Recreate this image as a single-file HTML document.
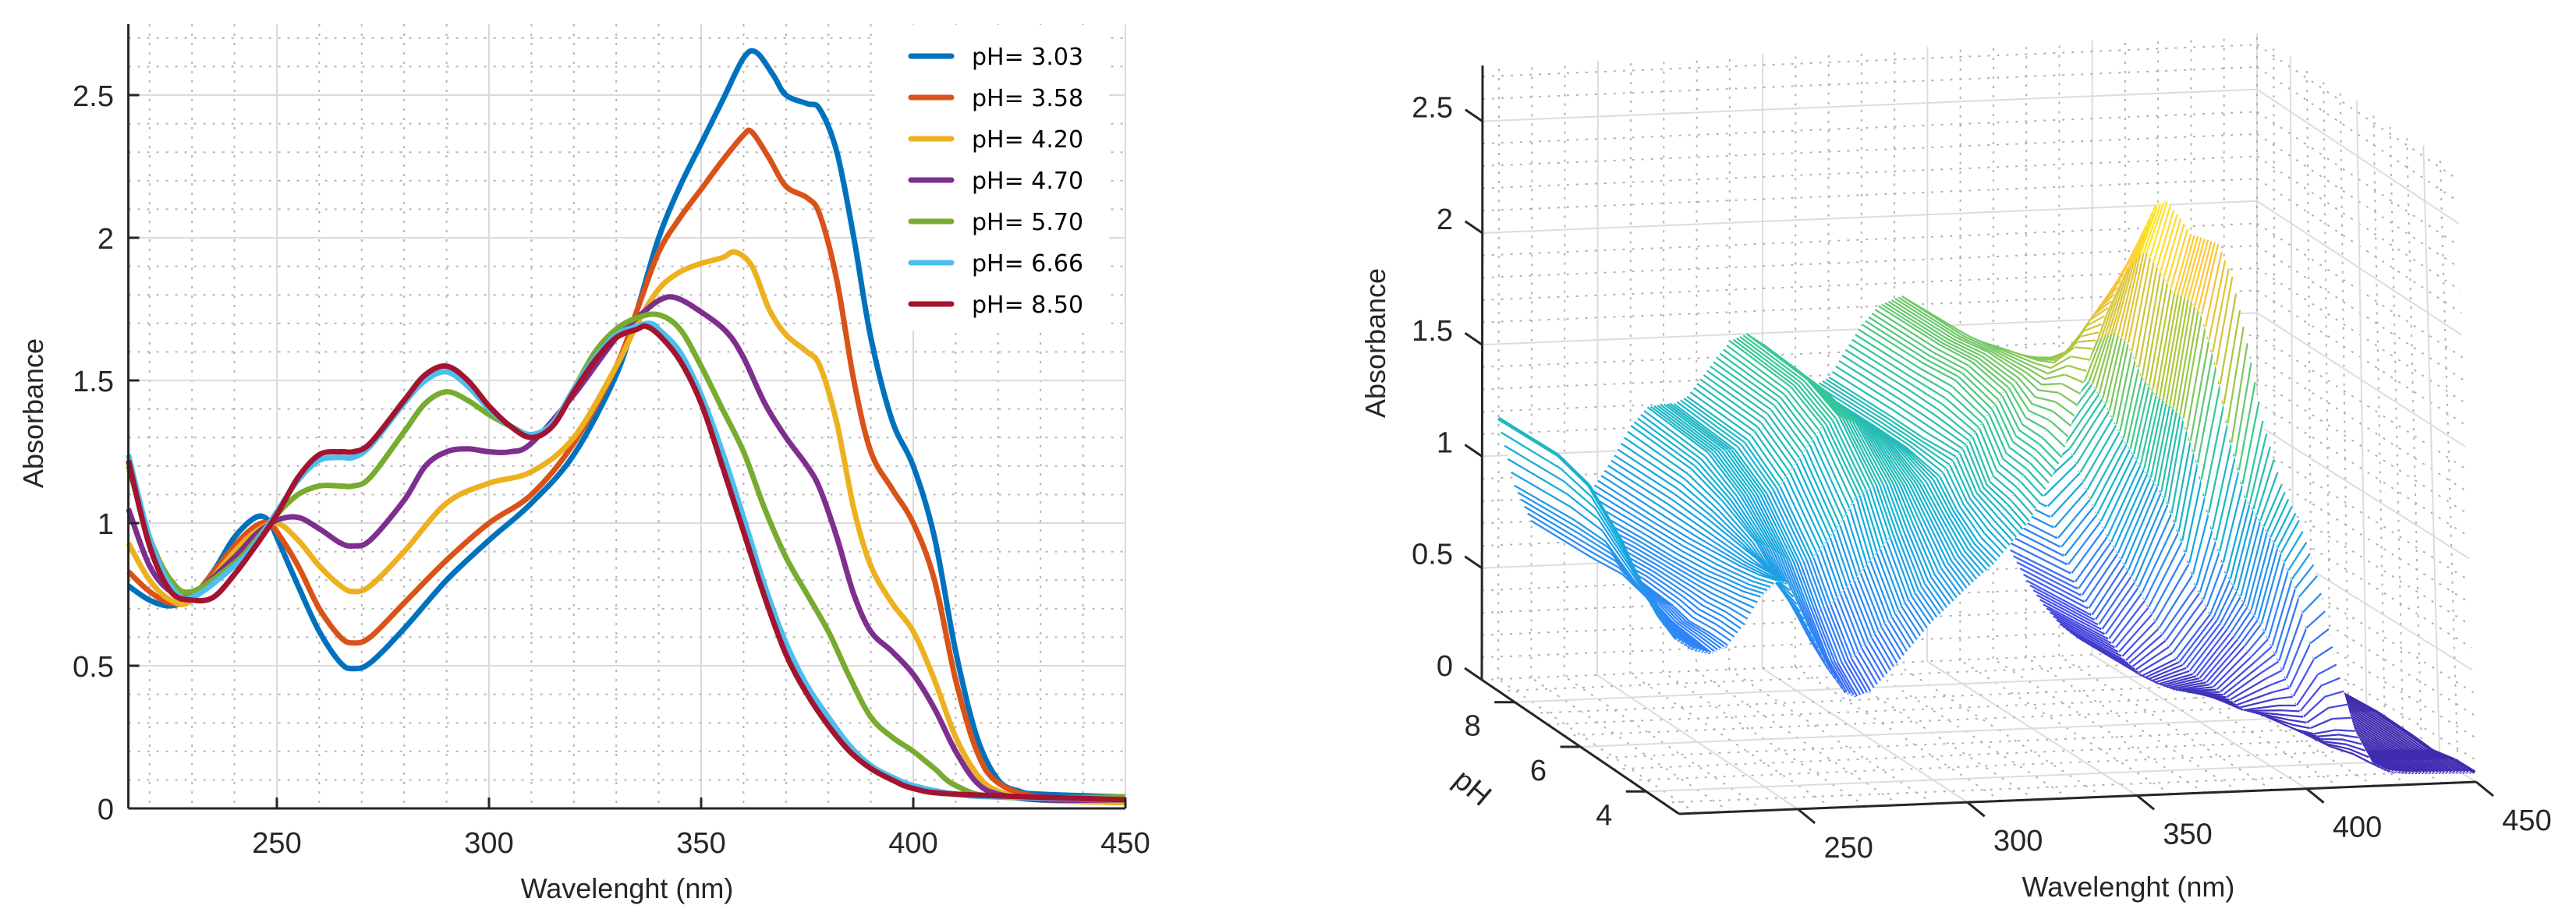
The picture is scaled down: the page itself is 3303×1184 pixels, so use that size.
<!DOCTYPE html>
<html><head><meta charset="utf-8">
<style>
html,body{margin:0;padding:0;background:#fff;}
svg{display:block;}
text{font-family:"Liberation Sans",sans-serif;fill:#262626;}
</style></head>
<body>
<svg id="fig" width="3303" height="1184" viewBox="0 0 3303 1184" xmlns="http://www.w3.org/2000/svg">
  <g id="left">
    <g id="lgrid"></g>
    <g id="llines"></g>
    <g id="laxes"></g>
    <g id="legend"></g>
    <text x="804" y="1152" font-size="36" text-anchor="middle">Wavelenght (nm)</text>
    <text x="0" y="0" font-size="36" text-anchor="middle" transform="translate(55,530) rotate(-90)">Absorbance</text>
  </g>
  <g id="right">
    <g id="rgrid"></g>
    <g id="rsurf"></g>
    <g id="raxes"></g>
    <text x="2729" y="1150" font-size="36" text-anchor="middle">Wavelenght (nm)</text>
    <text x="0" y="0" font-size="36" text-anchor="middle" transform="translate(1776,440) rotate(-90)">Absorbance</text>
    <text x="0" y="0" font-size="38" text-anchor="middle" transform="translate(1880,1020) rotate(40)">pH</text>
  </g>
</svg>
<script>
// ---- data ----
const phLabels = ["pH= 3.03","pH= 3.58","pH= 4.20","pH= 4.70","pH= 5.70","pH= 6.66","pH= 8.50"];
const phValues = [3.03,3.58,4.20,4.70,5.70,6.66,8.50];
const seriesColors = ["#0072BD","#D95319","#EDB120","#7E2F8E","#77AC30","#4DBEEE","#A2142F"];
const wl303=[215,220,225,230,235,240,245,248,250,255,260,265,268,272,280,290,300,310,320,330,335,340,345,350,355,360,363,367,370,375,378,382,386,390,395,400,405,410,415,420,425,430,450];
const ab303=[0.78,0.73,0.71,0.74,0.83,0.95,1.02,1.01,0.95,0.78,0.62,0.51,0.49,0.51,0.63,0.80,0.94,1.07,1.24,1.52,1.75,2.0,2.18,2.33,2.48,2.63,2.65,2.57,2.50,2.47,2.45,2.30,2.00,1.65,1.36,1.20,0.95,0.55,0.25,0.10,0.06,0.05,0.04];
const wl358=[215,220,225,230,240,245,248,250,255,260,265,268,272,280,290,300,310,320,330,335,340,345,350,355,360,362,366,370,375,378,382,386,390,395,400,405,410,415,420,430,450];
const ab358=[0.83,0.76,0.72,0.74,0.92,0.99,1.0,0.97,0.85,0.70,0.60,0.58,0.60,0.72,0.87,1.0,1.10,1.28,1.55,1.75,1.95,2.07,2.17,2.27,2.36,2.37,2.28,2.18,2.14,2.08,1.85,1.50,1.25,1.12,1.0,0.80,0.45,0.20,0.09,0.04,0.04];
const wl420=[215,220,225,230,240,245,250,255,260,265,268,272,280,290,300,310,320,330,335,340,345,350,355,358,362,366,370,375,378,382,386,390,395,400,405,410,415,420,430,450];
const ab420=[0.93,0.80,0.73,0.73,0.90,0.97,1.0,0.94,0.85,0.78,0.76,0.78,0.90,1.07,1.14,1.18,1.30,1.55,1.70,1.82,1.88,1.91,1.93,1.95,1.90,1.75,1.66,1.60,1.55,1.35,1.05,0.85,0.72,0.62,0.45,0.25,0.12,0.06,0.03,0.02];
const wl470=[215,220,225,230,240,245,250,255,260,265,268,272,280,285,290,295,300,305,310,320,330,335,340,344,350,356,360,365,370,375,378,382,386,390,395,400,405,410,415,420,430,450];
const ab470=[1.05,0.85,0.76,0.75,0.88,0.96,1.01,1.02,0.98,0.93,0.92,0.94,1.08,1.20,1.25,1.26,1.25,1.25,1.28,1.45,1.65,1.72,1.78,1.79,1.74,1.67,1.58,1.42,1.30,1.20,1.12,0.95,0.75,0.62,0.55,0.47,0.35,0.20,0.09,0.05,0.03,0.03];
const wl570=[215,220,225,230,240,245,250,255,260,265,268,272,280,285,290,295,300,305,310,315,320,325,330,335,340,345,350,355,360,365,370,375,380,385,390,395,400,405,410,420,450];
const ab570=[1.20,0.95,0.80,0.76,0.86,0.94,1.03,1.10,1.13,1.13,1.13,1.16,1.32,1.42,1.46,1.43,1.38,1.34,1.31,1.35,1.47,1.60,1.68,1.72,1.73,1.68,1.55,1.40,1.25,1.05,0.88,0.75,0.62,0.46,0.32,0.25,0.20,0.14,0.08,0.04,0.04];
const wl666=[215,220,225,230,240,245,250,255,260,265,268,272,280,285,290,295,300,305,310,315,320,325,330,335,338,340,345,350,355,360,365,370,375,380,385,390,395,400,410,420,450];
const ab666=[1.24,0.95,0.78,0.74,0.85,0.93,1.04,1.15,1.22,1.23,1.23,1.27,1.42,1.50,1.53,1.48,1.40,1.34,1.31,1.35,1.47,1.58,1.66,1.69,1.70,1.68,1.60,1.45,1.25,1.02,0.78,0.58,0.43,0.32,0.22,0.15,0.11,0.08,0.05,0.04,0.03];
const wl850=[215,220,225,230,235,240,245,250,255,260,265,268,272,280,285,290,295,300,305,310,315,320,325,330,335,337,340,345,350,355,360,365,370,375,380,385,390,395,400,410,450];
const ab850=[1.22,0.92,0.76,0.73,0.74,0.82,0.92,1.03,1.16,1.24,1.25,1.25,1.28,1.43,1.52,1.55,1.50,1.41,1.34,1.30,1.34,1.46,1.57,1.65,1.68,1.69,1.66,1.57,1.42,1.20,0.97,0.74,0.54,0.40,0.29,0.20,0.14,0.10,0.07,0.05,0.03];
const xTicks=[250,300,350,400,450];
const yTicks=[0,0.5,1,1.5,2,2.5];
const yTickLabels=["0","0.5","1","1.5","2","2.5"];
const zTicks=[0,0.5,1,1.5,2,2.5];
const pHTicks=[4,6,8];

const seriesWl=[wl303,wl358,wl420,wl470,wl570,wl666,wl850];
const seriesAb=[ab303,ab358,ab420,ab470,ab570,ab666,ab850];

const NS="http://www.w3.org/2000/svg";
function mk(tag,parent,attrs){const e=document.createElementNS(NS,tag);for(const k in attrs)e.setAttribute(k,attrs[k]);parent.appendChild(e);return e;}

// ---- left chart ----
const X0=164.6,PXNM=5.44,Y0=1037,PXA=366,TOPY=31,RIGHTX=1443;
const xs=w=>X0+(w-215)*PXNM;
const ys=a=>Y0-a*PXA;
const lgrid=document.getElementById('lgrid');
for(let w=220;w<=450;w+=10){
  const major=w%50===0;
  const l=mk('line',lgrid,{x1:xs(w),x2:xs(w),y1:TOPY,y2:Y0,stroke:major?'#dadada':'#b4b4b4','stroke-width':2,'stroke-dasharray':major?'none':'3 9'});
  
  
}
for(let k=1;k<=27;k++){
  const a=k/10;const major=k%5===0;
  const l=mk('line',lgrid,{x1:X0,x2:RIGHTX,y1:ys(a),y2:ys(a),stroke:major?'#dadada':'#b4b4b4','stroke-width':2,'stroke-dasharray':major?'none':'3 9'});
  
  
}
function catmull(pts){
  let d='M'+pts[0][0].toFixed(1)+','+pts[0][1].toFixed(1);
  for(let i=0;i<pts.length-1;i++){
    const p0=pts[Math.max(0,i-1)],p1=pts[i],p2=pts[i+1],p3=pts[Math.min(pts.length-1,i+2)];
    const c1=[p1[0]+(p2[0]-p0[0])/6,p1[1]+(p2[1]-p0[1])/6];
    const c2=[p2[0]-(p3[0]-p1[0])/6,p2[1]-(p3[1]-p1[1])/6];
    d+='C'+c1[0].toFixed(1)+','+c1[1].toFixed(1)+' '+c2[0].toFixed(1)+','+c2[1].toFixed(1)+' '+p2[0].toFixed(1)+','+p2[1].toFixed(1);
  }
  return d;
}
const llines=document.getElementById('llines');
for(let s=0;s<seriesWl.length;s++){
  const pts=seriesWl[s].map((w,i)=>[xs(w),ys(seriesAb[s][i])]);
  const p=mk('path',llines,{d:catmull(pts),fill:'none',stroke:seriesColors[s],'stroke-width':7,'stroke-linejoin':'round'});
  
  
}
const laxes=document.getElementById('laxes');
let ax=mk('line',laxes,{x1:X0,x2:X0,y1:TOPY,y2:Y0,stroke:'#262626','stroke-width':3});


ax=mk('line',laxes,{x1:X0,x2:RIGHTX,y1:Y0,y2:Y0,stroke:'#262626','stroke-width':3});


xTicks.forEach(w=>{
  const t=mk('line',laxes,{x1:xs(w),x2:xs(w),y1:Y0,y2:Y0-14,stroke:'#262626','stroke-width':3});
  
  
  const tx=mk('text',laxes,{x:xs(w),y:1094,'font-size':38,'text-anchor':'middle'});
  tx.textContent=String(w);
  
  
});
yTicks.forEach((a,i)=>{
  const t=mk('line',laxes,{x1:X0,x2:X0+14,y1:ys(a),y2:ys(a),stroke:'#262626','stroke-width':3});
  
  
  const tx=mk('text',laxes,{x:146,y:ys(a)+14,'font-size':38,'text-anchor':'end'});
  tx.textContent=yTickLabels[i];
  
  
});
const legend=document.getElementById('legend');
const lbg=mk('rect',legend,{x:1122,y:32,width:300,height:392,fill:'#fff'});


phLabels.forEach((lab,i)=>{
  const y=72+i*53;
  const g=mk('g',legend,{});
  
  
  mk('line',g,{x1:1168,x2:1220,y1:y,y2:y,stroke:seriesColors[i],'stroke-width':7,'stroke-linecap':'round'});
  const t=mk('text',g,{x:1246,y:y+11,'font-size':30,style:'font-family:"DejaVu Sans",sans-serif;fill:#000'});
  t.textContent=lab;
});

// ---- right chart (3D) ----
const C={b000:[2153,1044],b100:[3175,1003],b010:[1900,872],b110:[2894,831],b001:[2145,256],b101:[3150,215],b011:[1901,84],b111:[2894,43]};
function P(u,v,h){
  const L=(a,b,t)=>[a[0]+(b[0]-a[0])*t,a[1]+(b[1]-a[1])*t];
  const f0=L(L(C.b000,C.b100,u),L(C.b010,C.b110,u),v);
  const f1=L(L(C.b001,C.b101,u),L(C.b011,C.b111,u),v);
  return L(f0,f1,h);
}
const U=w=>(w-215)/235, V=ph=>(ph-3)/6, H=z=>z/2.75;
const rgrid=document.getElementById('rgrid');
function gl(p,q,major,name){
  const l=mk('line',rgrid,{x1:p[0].toFixed(1),y1:p[1].toFixed(1),x2:q[0].toFixed(1),y2:q[1].toFixed(1),stroke:major?'#dcdcdc':'#b0b0b0','stroke-width':2,'stroke-dasharray':major?'none':'3 9'});
  
  
}
for(let w=220;w<=450;w+=10){const m=w%50===0;gl(P(U(w),1,0),P(U(w),1,1),m,'back-wall-gridline');gl(P(U(w),0,0),P(U(w),1,0),m,'floor-gridline');}
for(let k=1;k<=27;k++){const m=k%5===0;gl(P(0,1,H(k/10)),P(1,1,H(k/10)),m,'back-wall-gridline');gl(P(1,1,H(k/10)),P(1,0,H(k/10)),m,'side-wall-gridline');}
for(let ph=3.5;ph<=9;ph+=0.5){const m=ph%2===0;gl(P(1,V(ph),0),P(1,V(ph),1),m,'side-wall-gridline');gl(P(0,V(ph),0),P(1,V(ph),0),m,'floor-gridline');}

// parula colormap
const parula=[[0.2422,0.1504,0.6603],[0.2810,0.3228,0.9579],[0.1786,0.5289,0.9682],[0.0689,0.6948,0.8394],[0.2161,0.7843,0.5923],[0.6720,0.7793,0.2227],[0.9970,0.7659,0.2199],[0.9769,0.9839,0.0805]];
function cmap(t){
  t=Math.max(0,Math.min(1,t))*(parula.length-1);const i=Math.min(parula.length-2,Math.floor(t)),f=t-i;
  const c=parula[i].map((a,k)=>Math.round(255*(a+(parula[i+1][k]-a)*f)));
  return 'rgb('+c.join(',')+')';
}
function interp(wlArr,abArr,w){
  if(w<=wlArr[0])return abArr[0];
  for(let i=1;i<wlArr.length;i++){if(w<=wlArr[i]){const t=(w-wlArr[i-1])/(wlArr[i]-wlArr[i-1]);return abArr[i-1]+(abArr[i]-abArr[i-1])*t;}}
  return abArr[abArr.length-1];
}
const zmax=Math.max(...seriesAb.map(a=>Math.max(...a)));
const grid=[];const wls=[];
for(let w=215;w<=450;w+=1)wls.push(w);
for(let r=0;r<phValues.length;r++)grid.push(wls.map(w=>interp(seriesWl[r],seriesAb[r],w)));
const quads=[];
for(let r=0;r<phValues.length-1;r++){
  for(let c=0;c<wls.length-1;c++){
    const u0=U(wls[c]),u1=U(wls[c+1]),v0=V(phValues[r]),v1=V(phValues[r+1]);
    const depth=P((u0+u1)/2,(v0+v1)/2,0)[1];
    quads.push({r,c,u0,u1,v0,v1,depth});
  }
}
quads.sort((a,b)=>a.depth-b.depth);
const rsurf=document.getElementById('rsurf');
quads.forEach(q=>{
  const z00=grid[q.r][q.c],z10=grid[q.r][q.c+1],z01=grid[q.r+1][q.c],z11=grid[q.r+1][q.c+1];
  const p1=P(q.u0,q.v0,H(z00)),p2=P(q.u1,q.v0,H(z10)),p3=P(q.u1,q.v1,H(z11)),p4=P(q.u0,q.v1,H(z01));
  const poly=mk('polygon',rsurf,{points:[p1,p2,p3,p4].map(p=>p[0].toFixed(1)+','+p[1].toFixed(1)).join(' '),fill:'#fff',stroke:'none'});
  
  
  const ln=mk('line',rsurf,{x1:p1[0].toFixed(1),y1:p1[1].toFixed(1),x2:p4[0].toFixed(1),y2:p4[1].toFixed(1),stroke:cmap((z00+z01)/2/zmax),'stroke-width':4.5});
  
  
  if(q.c===wls.length-2){
    const ln2=mk('line',rsurf,{x1:p2[0].toFixed(1),y1:p2[1].toFixed(1),x2:p3[0].toFixed(1),y2:p3[1].toFixed(1),stroke:cmap((z10+z11)/2/zmax),'stroke-width':4.5});
    
    
  }
});
// 3D axes
const raxes=document.getElementById('raxes');
function al(p,q,name){
  const l=mk('line',raxes,{x1:p[0].toFixed(1),y1:p[1].toFixed(1),x2:q[0].toFixed(1),y2:q[1].toFixed(1),stroke:'#262626','stroke-width':3});
  
  
}
al(P(0,1,0),P(0,1,1),'z-axis-line');
al(P(0,1,0),P(0,0,0),'ph-axis-line');
al(P(0,0,0),P(1,0,0),'wavelength-axis-line');
zTicks.forEach((z,i)=>{
  const p=P(0,1,H(z));al([p[0]-22,p[1]-15],p,'z-tick');
  const t=mk('text',raxes,{x:1863,y:(p[1]-5).toFixed(1),'font-size':38,'text-anchor':'end'});
  t.textContent=yTickLabels[i];
  
  
});
pHTicks.forEach(ph=>{
  const p=P(0,V(ph),0);al([p[0]-26,p[1]],p,'ph-tick');
  const t=mk('text',raxes,{x:(p[0]-54).toFixed(1),y:(p[1]+43).toFixed(1),'font-size':38,'text-anchor':'middle'});
  t.textContent=String(ph);
  
  
});
xTicks.forEach(w=>{
  const p=P(U(w),0,0);al(p,[p[0]+22,p[1]+18],'wavelength-tick');
  const t=mk('text',raxes,{x:(p[0]+65).toFixed(1),y:(p[1]+62).toFixed(1),'font-size':38,'text-anchor':'middle'});
  t.textContent=String(w);
  
  
});
</script>
</body></html>
